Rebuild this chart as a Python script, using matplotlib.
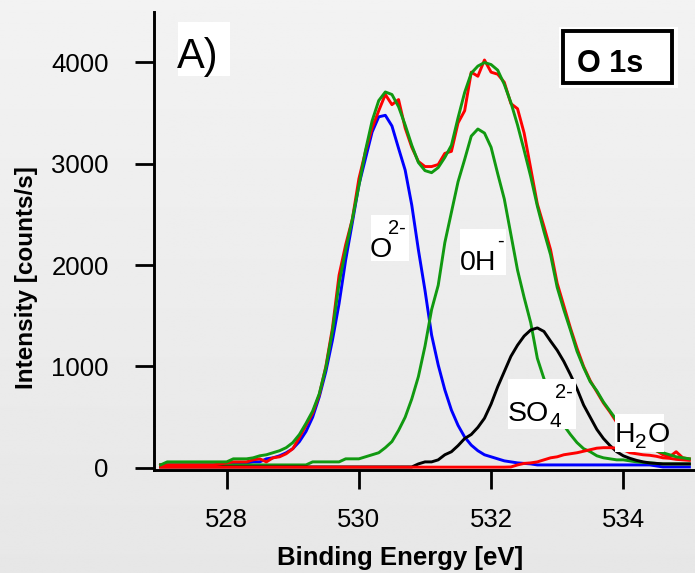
import numpy as np
import matplotlib
matplotlib.use('Agg')
import matplotlib.pyplot as plt
from matplotlib.patches import Rectangle

plt.rcParams['font.family'] = ['Liberation Sans', 'DejaVu Sans']

# binding energy grid [eV]
energy = np.round(np.arange(527.0, 535.05, 0.1), 1)

# measured spectrum (red)
measured = [30, 30, 30, 30, 30, 30, 30, 30, 30, 40,
            50, 60, 60, 60, 80, 90, 60, 100, 110, 140,
            190, 300, 420, 540, 720, 1000, 1380, 1900, 2200, 2450,
            2850, 3120, 3350, 3520, 3680, 3580, 3630, 3350, 3160, 3020,
            2970, 2970, 2990, 3100, 3120, 3400, 3520, 3900, 3860, 4020,
            3900, 3880, 3800, 3590, 3540, 3300, 2950, 2600, 2380, 2150,
            1820, 1600, 1380, 1180, 1000, 860, 750, 640, 550, 450,
            380, 320, 250, 220, 190, 170, 130, 110, 160, 100, 90]

# fit envelope (green)
envelope = [30, 60, 60, 60, 60, 60, 60, 60, 60, 60,
            60, 90, 90, 90, 100, 120, 130, 150, 170, 200,
            250, 330, 440, 560, 730, 990, 1350, 1820, 2150, 2450,
            2780, 3130, 3420, 3620, 3705, 3680, 3560, 3380, 3180, 3010,
            2930, 2910, 2960, 3060, 3180, 3450, 3700, 3890, 3960, 3995,
            3975, 3920, 3780, 3600, 3380, 3130, 2870, 2580, 2330, 2100,
            1780, 1560, 1360, 1150, 990, 850, 760, 650, 560, 470,
            390, 330, 270, 230, 200, 170, 150, 130, 110, 100, 90]

# O2- component (blue)
oxide = [30, 30, 30, 30, 30, 30, 30, 30, 30, 30,
         40, 40, 50, 50, 60, 60, 90, 100, 120, 150,
         190, 260, 360, 500, 700, 950, 1260, 1620, 2050, 2414,
         2790, 3050, 3310, 3460, 3475, 3370, 3150, 2935, 2590, 2150,
         1750, 1310, 1015, 770, 570, 420, 305, 225, 170, 130,
         110, 90, 70, 60, 50, 45, 40, 30, 30, 30,
         30, 30, 30, 30, 30, 30, 30, 30, 30, 30,
         30, 30, 30, 30, 30, 20, 10, 10, 10, 10, 10]

# OH- component (green)
hydroxide = [30, 30, 30, 30, 30, 30, 30, 30, 30, 30,
             30, 30, 30, 30, 30, 30, 30, 30, 30, 30,
             30, 30, 30, 60, 60, 60, 60, 60, 90, 90,
             90, 110, 130, 150, 200, 260, 370, 500, 680, 900,
             1200, 1560, 1800, 2220, 2520, 2820, 3040, 3270, 3340, 3300,
             3160, 2900, 2650, 2300, 1950, 1680, 1430, 1080, 880, 700,
             540, 420, 330, 250, 190, 160, 120, 100, 90, 80,
             80, 70, 60, 55, 50, 45, 40, 40, 40, 40, 40]

# SO4 2- component (black)
sulfate = [10, 10, 10, 10, 10, 10, 10, 10, 10, 10,
           10, 10, 10, 10, 10, 10, 10, 10, 10, 10,
           10, 10, 10, 10, 10, 10, 10, 10, 10, 10,
           10, 10, 10, 10, 10, 10, 10, 10, 10, 40,
           60, 60, 80, 130, 160, 220, 290, 330, 400, 490,
           630, 800, 950, 1100, 1210, 1300, 1360, 1380, 1345, 1250,
           1160, 1050, 920, 780, 620, 500, 380, 290, 220, 160,
           120, 95, 75, 60, 50, 45, 40, 40, 40, 40, 40]

# H2O component (red)
water = [8, 8, 8, 8, 8, 8, 8, 8, 8, 8,
         8, 8, 8, 8, 8, 8, 8, 8, 8, 8,
         8, 8, 8, 8, 8, 8, 8, 8, 8, 8,
         8, 8, 8, 8, 8, 8, 8, 8, 8, 8,
         8, 8, 8, 8, 8, 8, 8, 8, 8, 8,
         8, 8, 8, 10, 30, 45, 50, 60, 80, 100,
         110, 130, 140, 150, 165, 180, 195, 200, 200, 195,
         180, 150, 140, 130, 125, 115, 100, 95, 85, 80, 75]

xticks = [528, 530, 532, 534]
yticks = [0, 1000, 2000, 3000, 4000]

W, H = 695, 573
fig = plt.figure(figsize=(W / 100, H / 100), dpi=100)


def px(x, y):
    return x / W, 1 - y / H


# grey gradient background
bg = fig.add_axes([0, 0, 1, 1], zorder=-10)
grad = np.linspace(0.95, 0.905, 256).reshape(-1, 1)
bg.imshow(np.repeat(grad, 2, axis=1), cmap='gray', vmin=0, vmax=1,
          aspect='auto', extent=[0, 1, 0, 1])
bg.set_axis_off()

ax = fig.add_axes([154 / W, 1 - 470 / H, (694 - 154) / W, (470 - 12) / H])
ax.patch.set_alpha(0)

green = '#119911'
lw = 2.1
ax.plot(energy, oxide, color='#0000ff', lw=lw)
ax.plot(energy, hydroxide, color=green, lw=lw)
ax.plot(energy, sulfate, color='black', lw=lw)
ax.plot(energy, water, color='#ff0000', lw=lw)
ax.plot(energy, measured, color='#ff0000', lw=lw)
ax.plot(energy, envelope, color=green, lw=lw)

ax.set_xlim(526.9, 535.07)
ax.set_ylim(-20, 4493)
ax.set_xticks(xticks)
ax.set_yticks(yticks)
for s in ['top', 'right']:
    ax.spines[s].set_visible(False)
for s in ['left', 'bottom']:
    ax.spines[s].set_linewidth(2.1)
ax.tick_params(axis='both', direction='out', length=13.5, width=2.0,
               labelsize=18.5)
ax.tick_params(axis='y', pad=19)
ax.tick_params(axis='x', pad=14)

fig.text(*px(27, 278), 'Intensity [counts/s]', rotation=90, ha='center',
         va='center', fontsize=17.5, fontweight='bold')
fig.text(*px(400, 558), 'Binding Energy [eV]', ha='center', va='center',
         fontsize=18.5, fontweight='bold')


def white_box(x0, y0, x1, y1, edge=None, lw_box=0):
    x, y = px(x0, y1)
    fig.patches.append(Rectangle((x, y), (x1 - x0) / W, (y1 - y0) / H,
                                 transform=fig.transFigure, facecolor='white',
                                 edgecolor=edge if edge else 'none',
                                 linewidth=lw_box, zorder=5))


def label(x, y, s, size=20.5, **kw):
    fig.text(*px(x, y), s, fontsize=size, ha='left', va='baseline',
             zorder=6, **kw)


# panel letter
white_box(178, 22, 230, 76)
label(177, 68, 'A)', size=30)

# core level box
white_box(559, 27, 678, 88)
white_box(563, 31, 672, 83, edge='black', lw_box=2.8)
label(577, 72, 'O 1s', size=22, fontweight='bold')

# peak labels
white_box(371, 215, 409, 261)
label(370, 257, 'O')
label(388, 234, '2-', size=14.5)

white_box(460, 229, 506, 275)
label(460, 270, '0H')
label(497, 247, '-', size=14.5)

white_box(508, 379, 576, 429)
label(508, 421, 'SO')
label(549, 427, '4', size=15)
label(555, 398, '2-', size=14.5)

white_box(615, 414, 664, 452)
label(615, 442, 'H')
label(635, 448, '2', size=15)
label(648, 442, 'O')

fig.savefig('out.png', dpi=100)
